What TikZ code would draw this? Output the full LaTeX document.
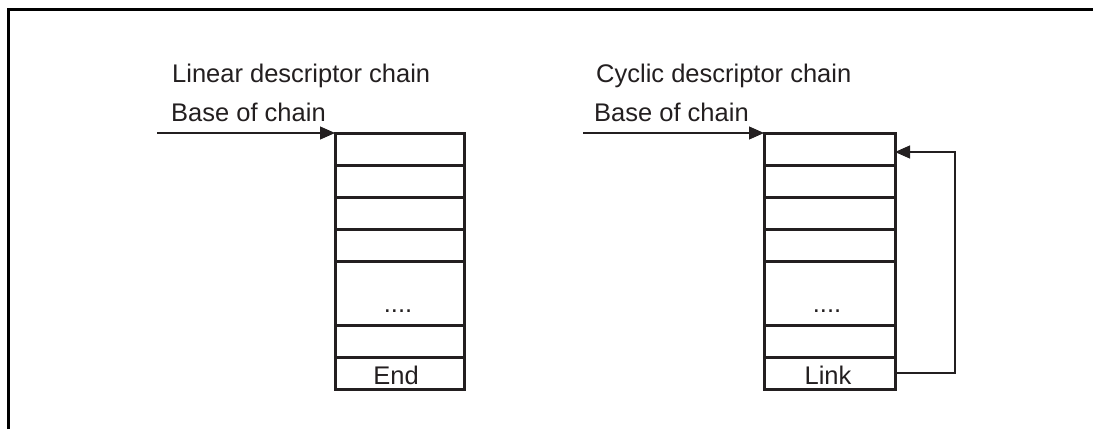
\documentclass[tikz,border=0pt]{standalone}
\usepackage{fontspec}
\setmainfont{Liberation Sans}
\usetikzlibrary{arrows.meta}
\definecolor{ink}{HTML}{231F20}
\begin{document}
\begin{tikzpicture}[x=1pt,y=-1pt,
  cell/.style={draw=ink, line width=3pt, rectangle, minimum width=129pt, inner sep=0pt, outer sep=0pt, anchor=north west},
  lbl/.style={anchor=base west, inner sep=0pt, text=ink, font=\fontsize{25.5}{30}\selectfont},
  txt/.style={anchor=base, inner sep=0pt, text=ink, font=\fontsize{25.5}{30}\selectfont},
  conn/.style={draw=ink, line width=1.2pt, -{Triangle[length=15pt,width=13pt]}}]
\useasboundingbox (0,0) rectangle (1093,429);
\draw[line width=3pt] (8,429) -- (8,9) -- (1093,9);
% Linear chain
\node[lbl] (t1) at (172,82) {Linear descriptor chain};
\node[lbl] (b1) at (171,121) {Base of chain};
\foreach \i/\y/\h in {1/133/32,2/165/32,3/197/32,4/229/32,5/261/64,6/325/32,7/357/32}{
  \node[cell, minimum height=\h pt] (L\i) at (335,\y) {};
}
\node[txt] (Ld) at (398,312) {....};
\node[txt] (Le) at (396,384) {End};
\coordinate (s1) at (157,133);
\draw[conn] (s1) -- (L1.north west);
% Cyclic chain
\node[lbl] (t2) at (596,82) {Cyclic descriptor chain};
\node[lbl] (b2) at (594,121) {Base of chain};
\foreach \i/\y/\h in {1/133/32,2/165/32,3/197/32,4/229/32,5/261/64,6/325/32,7/357/32}{
  \node[cell, minimum height=\h pt, minimum width=131pt] (R\i) at (764,\y) {};
}
\node[txt] (Rd) at (827,312) {....};
\node[txt] (Rl) at (828,384) {Link};
\coordinate (s2) at (583,133);
\draw[conn] (s2) -- (R1.north west);
\coordinate (c1) at (955,373);
\coordinate (c2) at (955,152);
\draw[conn] (R7.east) -- (c1) -- (c2) -- (c2 -| R1.east);
\end{tikzpicture}
\end{document}
